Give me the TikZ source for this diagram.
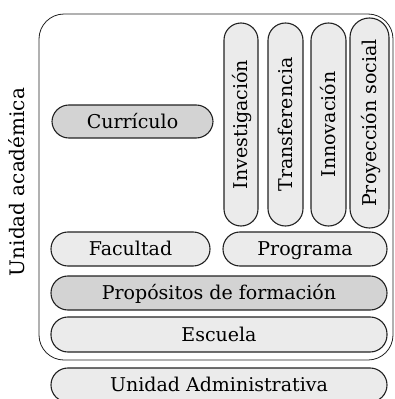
\documentclass[tikz,border=0pt]{standalone}
\usepackage{fontspec}
\setmainfont{DejaVu Serif}
\definecolor{pilllight}{HTML}{EBEBEB}
\definecolor{pilldark}{HTML}{D3D3D3}
\definecolor{edge}{HTML}{222222}
\tikzset{
  pill/.style={draw=edge, line width=1.1pt, fill=pilllight, rounded corners=16.9pt,
    inner sep=0pt, font=\fontsize{19}{22}\selectfont, text=black,
    text height=13.9pt, text depth=0pt},
  darkpill/.style={pill, fill=pilldark},
  outerbox/.style={draw=edge, line width=0.8pt, rounded corners=25pt}
}
\begin{document}
\begin{tikzpicture}[x=1pt,y=-1pt]
\useasboundingbox (0,0) rectangle (395,399);
\draw[outerbox] (39,14) rectangle (393,360);
\node[rotate=90, font=\fontsize{20}{24}\selectfont, inner sep=0pt, text height=14.6pt, text depth=0pt] (ua) at (17,182) {Unidad académica};
\node[darkpill, minimum width=161pt, minimum height=33pt] (cur) at (132.5,121.5) {Currículo};
\node[pill, rotate=90, minimum width=203pt, minimum height=34pt, rounded corners=17pt] (inv) at (241,124.5) {Investigación};
\node[pill, rotate=90, minimum width=203pt, minimum height=35pt, rounded corners=17.4pt] (tra) at (285.5,124.5) {Transferencia};
\node[pill, rotate=90, minimum width=203pt, minimum height=35pt, rounded corners=17.4pt] (inn) at (328.5,124.5) {Innovación};
\node[pill, rotate=90, minimum width=210pt, minimum height=39pt, rounded corners=19.4pt] (pro) at (369.5,123) {Proyección social};
\node[pill, minimum width=159pt, minimum height=34pt] (fac) at (130.5,249) {Facultad};
\node[pill, minimum width=164pt, minimum height=34pt] (prg) at (305,249) {Programa};
\node[darkpill, minimum width=336pt, minimum height=34pt] (pf) at (219,293) {Propósitos de formación};
\node[pill, minimum width=336pt, minimum height=35pt] (esc) at (219,334.5) {Escuela};
\node[pill, minimum width=336pt, minimum height=34pt] (uad) at (219,385) {Unidad Administrativa};
\end{tikzpicture}
\end{document}
